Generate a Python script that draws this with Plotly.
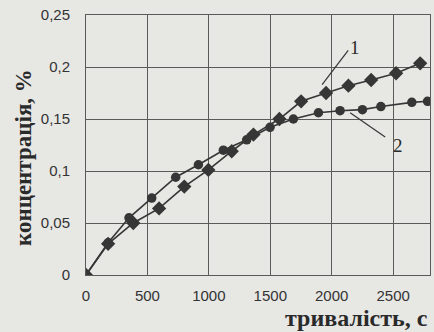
import plotly.graph_objects as go

# Data
t1 = [0, 180, 385, 595, 800, 996, 1186, 1363, 1574, 1751, 1954, 2136, 2321, 2524, 2720]
c1 = [0, 0.030, 0.050, 0.064, 0.085, 0.101, 0.119, 0.135, 0.150, 0.167, 0.175, 0.182, 0.1875, 0.194, 0.2035]

t2 = [0, 180, 350, 535, 730, 915, 1118, 1308, 1498, 1688, 1892, 2068, 2250, 2400, 2652, 2780]
c2 = [0, 0.031, 0.055, 0.074, 0.094, 0.106, 0.120, 0.130, 0.142, 0.150, 0.156, 0.158, 0.159, 0.162, 0.166, 0.167]

x_ticks = [0, 500, 1000, 1500, 2000, 2500]
x_ticktext = ["0", "500", "1000", "1500", "2000", "2500"]
y_ticks = [0, 0.05, 0.1, 0.15, 0.2, 0.25]
y_ticktext = ["0", "0,05", "0,1", "0,15", "0,2", "0,25"]

line_col = "#363636"
grid_col = "#5a5a5a"
bg = "#e7e7e4"

fig = go.Figure()
fig.add_trace(go.Scatter(x=t1, y=c1, mode="lines+markers",
                         line=dict(color=line_col, width=1.6),
                         marker=dict(symbol="diamond", size=11, color=line_col),
                         showlegend=False))
fig.add_trace(go.Scatter(x=t2, y=c2, mode="lines+markers",
                         line=dict(color=line_col, width=1.6),
                         marker=dict(symbol="circle", size=9.5, color=line_col),
                         showlegend=False))

serif = "Liberation Serif, DejaVu Serif, serif"
sans = "Liberation Sans, Arial, sans-serif"

fig.update_layout(
    width=434, height=332,
    margin=dict(l=86, r=4, t=15, b=57, autoexpand=False),
    paper_bgcolor=bg, plot_bgcolor=bg,
    xaxis=dict(range=[0, 2800], tickvals=x_ticks, ticktext=x_ticktext,
               automargin=False,
               showgrid=True, gridcolor=grid_col, gridwidth=1,
               showline=True, linecolor=grid_col, linewidth=1, mirror=True,
               zeroline=False, ticks="", ticklabelstandoff=7,
               tickfont=dict(family=sans, size=15, color="#333")),
    yaxis=dict(range=[0, 0.25], tickvals=y_ticks, ticktext=y_ticktext,
               automargin=False,
               showgrid=True, gridcolor=grid_col, gridwidth=1,
               showline=True, linecolor=grid_col, linewidth=1, mirror=True,
               zeroline=False, ticks="", ticklabelstandoff=12,
               tickfont=dict(family=sans, size=15, color="#333")),
    annotations=[
        dict(text="<b>тривалість, с</b>", xref="paper", yref="paper",
             x=1.0, y=-0.165, xanchor="right", yanchor="middle", showarrow=False,
             font=dict(family=serif, size=24, color="#2a2a2a")),
        dict(text="<b>концентрація, %</b>", xref="paper", yref="paper",
             x=-0.183, y=0.45, xanchor="center", yanchor="middle", textangle=-90,
             showarrow=False, font=dict(family=serif, size=23, color="#2a2a2a")),
        dict(text="1", x=2190, y=0.219, xref="x", yref="y", showarrow=False,
             font=dict(family=serif, size=19, color="#2a2a2a")),
        dict(text="2", x=2540, y=0.125, xref="x", yref="y", showarrow=False,
             font=dict(family=serif, size=19, color="#2a2a2a")),
    ],
    shapes=[
        dict(type="line", xref="x", yref="y", x0=2134, y0=0.216, x1=1922, y1=0.183,
             line=dict(color=line_col, width=1.2)),
        dict(type="line", xref="x", yref="y", x0=2435, y0=0.1327, x1=2150, y1=0.156,
             line=dict(color=line_col, width=1.2)),
    ],
)

fig.write_html("out.html",
               config={"displayModeBar": False},
               post_script="document.body.style.margin='0';"
                           "document.body.style.background='%s';" % bg)
